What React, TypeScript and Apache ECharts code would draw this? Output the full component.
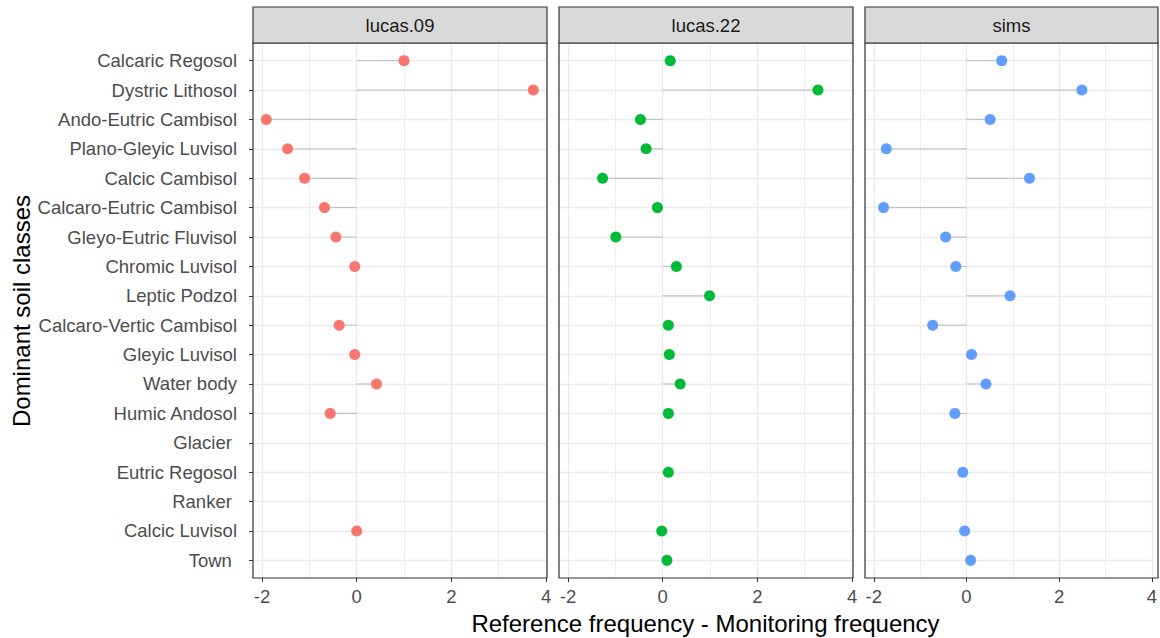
import React, { useEffect, useRef } from "react";
import * as echarts from "echarts";

const categories = [
  "Calcaric Regosol",
  "Dystric Lithosol",
  "Ando-Eutric Cambisol",
  "Plano-Gleyic Luvisol",
  "Calcic Cambisol",
  "Calcaro-Eutric Cambisol",
  "Gleyo-Eutric Fluvisol",
  "Chromic Luvisol",
  "Leptic Podzol",
  "Calcaro-Vertic Cambisol",
  "Gleyic Luvisol",
  "Water body",
  "Humic Andosol",
  "Glacier ",
  "Eutric Regosol",
  "Ranker ",
  "Calcic Luvisol",
  "Town ",
];

const panelNames = ["lucas.09", "lucas.22", "sims"];

const lucas09: (number | null)[] = [1.0, 3.73, -1.91, -1.46, -1.1, -0.68, -0.44, -0.04, null, -0.37, -0.04, 0.42, -0.56, null, null, null, 0.0, null];
const lucas22: (number | null)[] = [0.16, 3.28, -0.47, -0.35, -1.27, -0.11, -0.99, 0.29, 0.99, 0.12, 0.14, 0.37, 0.12, null, 0.12, null, -0.02, 0.09];
const sims: (number | null)[] = [0.76, 2.49, 0.51, -1.73, 1.36, -1.79, -0.45, -0.23, 0.94, -0.73, 0.11, 0.42, -0.25, null, -0.08, null, -0.04, 0.09];

const majorTicks = [-2, 0, 2, 4];
const minorTicks = [-1, 1, 3];
const panelColors = ["#F8766D", "#00BA38", "#619CFF"];

const xTitle = "Reference frequency - Monitoring frequency";
const yTitle = "Dominant soil classes";

const FONT = "'Liberation Sans', Arial, sans-serif";

export default function App() {
  const ref = useRef<HTMLDivElement>(null);

  useEffect(() => {
    if (!ref.current) return;
    const chart = echarts.init(ref.current, null, { renderer: "svg" });

    const seriesData = [lucas09, lucas22, sims];
    const panels = [
      { left: 253, width: 294 },
      { left: 559, width: 294 },
      { left: 865, width: 293 },
    ];
    const top = 43;
    const height = 535;
    const stripTop = 7;

    const grids: any[] = [];
    const xAxes: any[] = [];
    const yAxes: any[] = [];
    const series: any[] = [];
    const graphics: any[] = [];

    panels.forEach((p, i) => {
      grids.push({ left: p.left, top, width: p.width, height, containLabel: false });
      xAxes.push({
        type: "value",
        gridIndex: i,
        min: -2.19,
        max: 4.02,
        position: "bottom",
        axisLine: { show: false, onZero: false },
        axisTick: {
          show: true,
          customValues: majorTicks,
          length: 4,
          lineStyle: { color: "#333333", width: 1 },
        },
        axisLabel: {
          show: true,
          customValues: majorTicks,
          color: "#4d4d4d",
          fontSize: 18.5,
          fontFamily: FONT,
          margin: 9,
          formatter: (v: number) => String(v),
        },
        splitLine: { show: true, lineStyle: { color: "#ebebeb", width: 1.4 } },
      });
      xAxes.push({
        type: "value",
        gridIndex: i,
        min: -2.19,
        max: 4.02,
        position: "bottom",
        axisLine: { show: false, onZero: false },
        axisTick: { show: false, customValues: minorTicks },
        axisLabel: { show: false },
        splitLine: { show: true, lineStyle: { color: "#eeeeee", width: 1 } },
      });
      yAxes.push({
        type: "value",
        gridIndex: i,
        min: -0.6,
        max: categories.length - 1 + 0.6,
        inverse: true,
        position: "left",
        axisLine: { show: false, onZero: false },
        axisTick: {
          show: i === 0,
          customValues: categories.map((_, k) => k),
          length: 4,
          lineStyle: { color: "#333333", width: 1 },
        },
        axisLabel: {
          show: i === 0,
          customValues: categories.map((_, k) => k),
          formatter: (v: number) => categories[Math.round(v)] ?? "",
          color: "#4d4d4d",
          fontSize: 18.5,
          fontFamily: FONT,
          margin: 16,
        },
        splitLine: { show: true, lineStyle: { color: "#ebebeb", width: 1.4 } },
      });

      const vals = seriesData[i];
      const pts: number[][] = [];
      vals.forEach((v, k) => {
        if (v !== null) pts.push([v, k]);
      });

      series.push({
        type: "custom",
        xAxisIndex: i * 2,
        yAxisIndex: i,
        data: pts,
        silent: true,
        renderItem: (params: any, api: any) => {
          const v = api.value(0);
          const k = api.value(1);
          const a = api.coord([0, k]);
          const b = api.coord([v, k]);
          return {
            type: "line",
            shape: { x1: a[0], y1: a[1], x2: b[0], y2: b[1] },
            style: { stroke: "#bdbdbd", lineWidth: 1 },
          };
        },
        z: 2,
      });
      series.push({
        type: "scatter",
        xAxisIndex: i * 2,
        yAxisIndex: i,
        data: pts,
        symbol: "circle",
        symbolSize: 11,
        itemStyle: { color: panelColors[i], opacity: 1 },
        z: 3,
      });

      graphics.push({
        type: "rect",
        shape: { x: p.left, y: top, width: p.width, height },
        style: { fill: "none", stroke: "#333333", lineWidth: 1.2 },
        z: 100,
      });
      graphics.push({
        type: "rect",
        shape: { x: p.left, y: stripTop, width: p.width, height: top - stripTop },
        style: { fill: "#d9d9d9", stroke: "#333333", lineWidth: 1.2 },
        z: 100,
      });
      graphics.push({
        type: "text",
        x: p.left + p.width / 2,
        y: (stripTop + top) / 2,
        style: {
          text: panelNames[i],
          fill: "#1a1a1a",
          font: `18.5px ${FONT}`,
          textAlign: "center",
          textVerticalAlign: "middle",
        },
        z: 101,
      });
    });

    graphics.push({
      type: "text",
      x: (253 + 1158) / 2,
      y: 623,
      style: {
        text: xTitle,
        fill: "#000000",
        font: `24px ${FONT}`,
        textAlign: "center",
        textVerticalAlign: "middle",
      },
    });
    graphics.push({
      type: "text",
      x: 21,
      y: 311,
      rotation: Math.PI / 2,
      style: {
        text: yTitle,
        fill: "#000000",
        font: `24px ${FONT}`,
        textAlign: "center",
        textVerticalAlign: "middle",
      },
    });

    chart.setOption({
      animation: false,
      backgroundColor: "#ffffff",
      grid: grids,
      xAxis: xAxes,
      yAxis: yAxes,
      series,
      graphic: graphics,
    });

    return () => chart.dispose();
  }, []);

  return (
    <div
      ref={ref}
      style={{ position: "fixed", left: 0, top: 0, width: 1160, height: 638 }}
    />
  );
}
